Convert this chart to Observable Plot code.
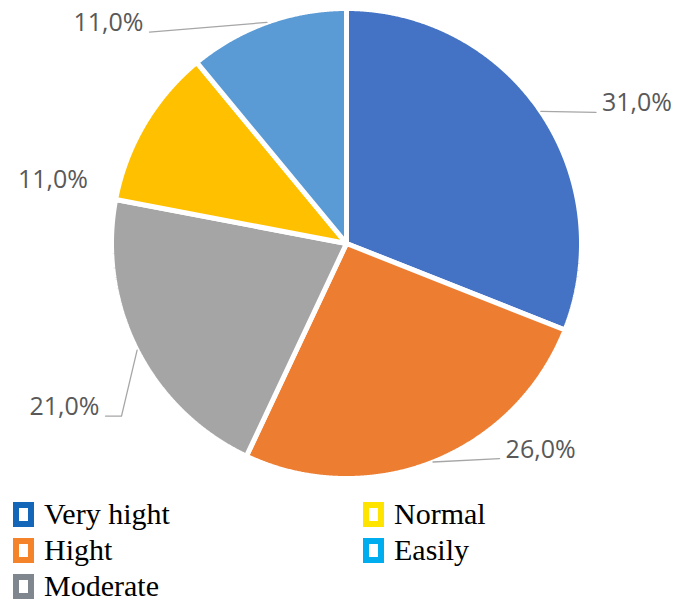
<!DOCTYPE html>
<html>
<head>
<meta charset="utf-8">
<script src="https://cdn.jsdelivr.net/npm/d3@7"></script>
<script src="https://cdn.jsdelivr.net/npm/@observablehq/plot@0.6"></script>
<style>
  body { margin: 0; background: #fff; }
  #chart { width: 687px; }
  .pie-legend {
    display: grid;
    grid-auto-flow: column;
    grid-template-rows: repeat(3, 36px);
    grid-template-columns: 350px auto;
    margin-top: 4px;
    padding-left: 13px;
    color: #000;
  }
  .pie-legend .item {
    display: flex; align-items: center; white-space: nowrap;
    font-family: "Liberation Serif", "Tinos", "Noto Serif", "DejaVu Serif", "FreeSerif", "Noto Serif CJK SC", "Times New Roman", Times, serif;
    font-size: 30px;
    line-height: 34px;
  }
  .pie-legend .sw {
    width: 21px; height: 25px; box-sizing: border-box;
    border: 6px solid; background: #fff; margin-right: 10px; flex: none;
  }
</style>
</head>
<body>
<div id="chart"></div>
<script>
// Survey answers: share of respondents per level
const categories = ["Very hight", "Hight", "Moderate", "Normal", "Easily"];
const shares = [31.0, 26.0, 21.0, 11.0, 11.0];

// Fill colours of the slices and of the legend keys
const sliceColors = ["#4472C4", "#ED7D31", "#A5A5A5", "#FFC000", "#5B9BD5"];
const legendColors = ["#1466B8", "#F5832A", "#7F868D", "#FFE400", "#00AEEF"];

// Where each percentage label sits (unit-circle coordinates), whether it
// gets a leader line, and the length of the leader's horizontal elbow (px)
const labelSpots = [
  { x: 1.236, y: 0.596, leader: true, elbow: 0 },
  { x: 0.826, y: -0.877, leader: true, elbow: 0 },
  { x: -1.200, y: -0.696, leader: true, elbow: 16 },
  { x: -1.249, y: 0.272, leader: false, elbow: 0 },
  { x: -1.013, y: 0.938, leader: true, elbow: 0 }
];

const R = 235;            // pixels per unit radius
const labelHalf = 41;     // half label width plus gap, px
const labelDrop = 9;      // leader meets the label at its bottom, px

const fmt = d3.formatLocale({decimal: ",", thousands: ".", grouping: [3], currency: ["", ""]}).format(".1f");

const arcs = d3.pie().sort(null).value(d => d)(shares);

// Outline of each slice: centre, arc sampled clockwise from 12 o'clock, back to centre
const slicePoints = arcs.flatMap((a, i) => {
  const k = categories[i];
  const pts = [{x: 0, y: 0, k}];
  const n = Math.max(2, Math.ceil((a.endAngle - a.startAngle) / 0.004));
  for (let j = 0; j <= n; j++) {
    const t = a.startAngle + (a.endAngle - a.startAngle) * j / n;
    pts.push({x: Math.sin(t), y: Math.cos(t), k});
  }
  pts.push({x: 0, y: 0, k});
  return pts;
});

const labels = arcs.map((a, i) => ({
  text: fmt(shares[i]) + "%",
  x: labelSpots[i].x,
  y: labelSpots[i].y
}));

const leaderPoints = arcs.flatMap((a, i) => {
  const s = labelSpots[i];
  if (!s.leader) return [];
  const mid = (a.startAngle + a.endAngle) / 2;
  const side = Math.sign(s.x);
  const ax = s.x - side * labelHalf / R;
  const ay = s.y - labelDrop / R;
  const pts = [{x: Math.sin(mid), y: Math.cos(mid), k: i}];
  if (s.elbow) pts.push({x: ax - side * s.elbow / R, y: ay, k: i});
  pts.push({x: ax, y: ay, k: i});
  return pts;
});

const chart = Plot.plot({
  width: 687,
  height: 492,
  marginLeft: 111,
  marginRight: 106,
  marginTop: 8,
  marginBottom: 14,
  x: {domain: [-1, 1], axis: null},
  y: {domain: [-1, 1], axis: null},
  color: {domain: categories, range: sliceColors},
  style: {background: "white"},
  marks: [
    Plot.line(slicePoints, {
      x: "x", y: "y", z: "k", fill: "k",
      stroke: "white", strokeWidth: 5, strokeLinejoin: "miter", curve: "linear"
    }),
    Plot.line(leaderPoints, {
      x: "x", y: "y", z: "k", stroke: "#A6A6A6", strokeWidth: 1.3, curve: "linear"
    }),
    Plot.text(labels, {
      x: "x", y: "y", text: "text",
      fontSize: 25, fontFamily: "Open Sans, Liberation Sans, sans-serif",
      fill: "#595959", textAnchor: "middle", lineAnchor: "middle"
    })
  ]
});
document.getElementById("chart").appendChild(chart);

// Legend below the pie, filled column by column
const legend = document.createElement("div");
legend.className = "pie-legend";
categories.forEach((c, i) => {
  const item = document.createElement("div");
  item.className = "item";
  const sw = document.createElement("span");
  sw.className = "sw";
  sw.style.borderColor = legendColors[i];
  const t = document.createElement("span");
  t.textContent = c;
  item.appendChild(sw);
  item.appendChild(t);
  legend.appendChild(item);
});
document.getElementById("chart").appendChild(legend);
</script>
</body>
</html>
